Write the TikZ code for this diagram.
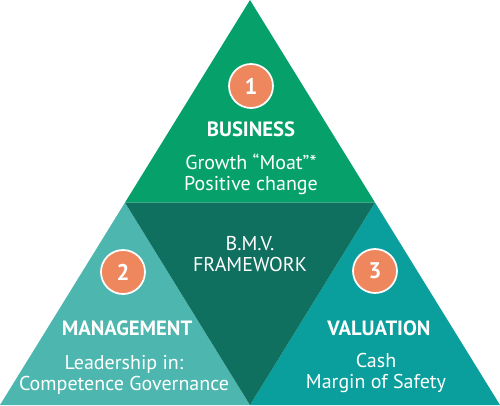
\documentclass[tikz,border=0pt]{standalone}
\usepackage{fontspec}
\setmainfont{PT Sans}
\begin{document}
\begin{tikzpicture}[x=0.75pt,y=-0.75pt,
  title/.style={text=white,font=\bfseries\fontsize{15.5}{17}\selectfont,align=center},
  body/.style={text=white,font=\fontsize{15}{15.5}\selectfont,align=center},
  badge/.style={circle,fill=badgeorange,draw=white,line width=1.3pt,minimum size=33pt,inner sep=0pt,text=white,font=\bfseries\fontsize{17}{18}\selectfont}]
\definecolor{topgreen}{HTML}{06A16B}
\definecolor{midteal}{HTML}{10705F}
\definecolor{leftteal}{HTML}{4DB7AF}
\definecolor{rightteal}{HTML}{0A9F9C}
\definecolor{badgeorange}{HTML}{EE875D}
\useasboundingbox (0,0) rectangle (500,405);
\coordinate (A) at (250,0);
\coordinate (L) at (0,405);
\coordinate (R) at (500,405);
\coordinate (ML) at (125,202.5);
\coordinate (MR) at (375,202.5);
\coordinate (MB) at (250,405);
\fill[topgreen] (A) -- (ML) -- (MR) -- cycle;
\fill[leftteal] (ML) -- (L) -- (MB) -- cycle;
\fill[rightteal] (MR) -- (MB) -- (R) -- cycle;
\fill[midteal] (ML) -- (MR) -- (MB) -- cycle;
\node[badge] (b1) at (251,86) {1};
\node[title] (t1) at (251,129) {BUSINESS};
\node[body] (d1) at (251,174) {Growth “Moat”*\\Positive change};
\node[body] (c) at (250,254) {B.M.V.\\FRAMEWORK};
\node[badge] (b2) at (123,272) {2};
\node[title] (t2) at (127,328) {MANAGEMENT};
\node[body] (d2) at (124,375) {Leadership in:\\Competence Governance};
\node[badge] (b3) at (375,271) {3};
\node[title] (t3) at (379,328) {VALUATION};
\node[body] (d3) at (376,373) {Cash\\Margin of Safety};
\end{tikzpicture}
\end{document}
